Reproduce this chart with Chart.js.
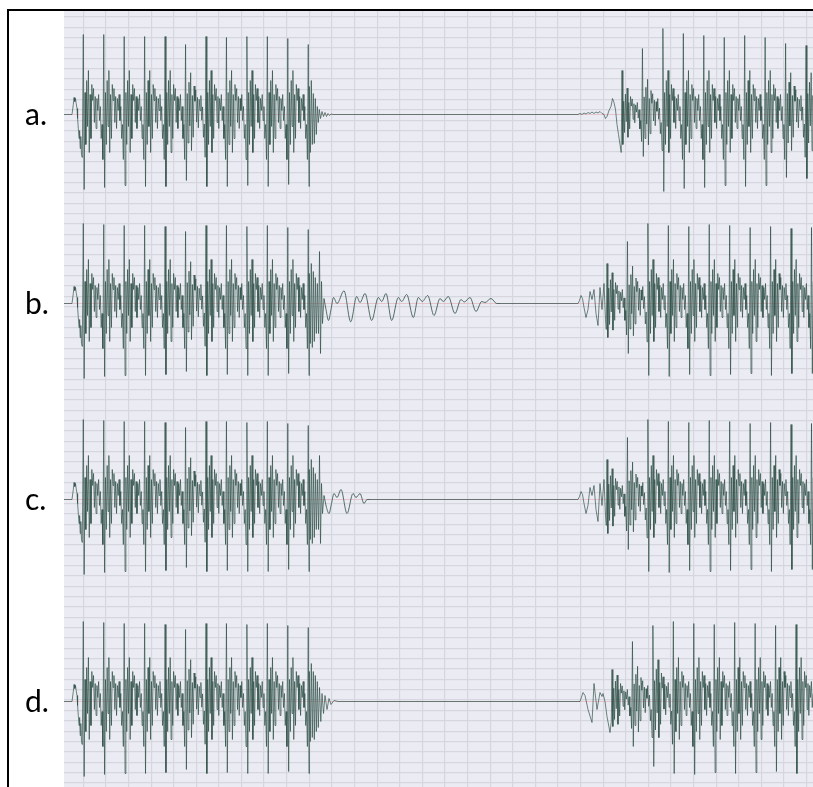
<!DOCTYPE html>
<html>
<head>
<meta charset="utf-8">
<script src="https://cdn.jsdelivr.net/npm/chart.js@4/dist/chart.umd.min.js"></script>
<style>
  html, body { margin: 0; padding: 0; background: #ffffff; }
  #wrap { width: 813px; height: 787px; }
</style>
</head>
<body>
<div id="wrap"><canvas id="trace" width="813" height="787"></canvas></div>
<script>
// ---- recorded traces: time in ms, amplitude in µV ----
const BEAT_MS = 20.45;              // spacing of the large deflections
const SAMPLES_PER_BEAT = 24;
const SAMPLE_MS = BEAT_MS / SAMPLES_PER_BEAT;

// one beat, starting at the large upward deflection
const beatShape = [80, -75, 22, -30, 34, -12, 44, -38, 20, -24, 30, 14, 26, -8, 18, -14,
                   16, 4, 20, -6, 8, -24, -10, -45];

const rowLabels = ['a.', 'b.', 'c.', 'd.'];

// onset shared by every trace before the first burst
const onsetLead = [[0, 0], [8, 0], [9.3, 10], [10, 17], [10.8, 13], [11.5, 16], [12.2, 11], [13, 6],
                   [13.6, -4], [14.3, -14], [15, -24], [15.6, -16], [16.2, -34], [16.8, -22],
                   [17.5, -40], [18.3, -43]];
const burst1Start = 19.3;

// trace a
const aTops1    = [80, 80, 78, 78, 78, 70, 78, 77, 78, 78, 76, 70];
const aBottoms1 = [-75, -73, -71, -72, -72, -66, -72, -72, -71, -72, -70, -72];
const aGains1   = [1, 1, 1, 1, 1, 0.95, 1, 1, 1, 1, 1, 1];
const aTail1 = [[245.3, 28], [246.3, -38], [247.3, 34], [248.3, -30], [249.3, 21], [250.3, -29],
                [251.3, 16], [252.3, -20], [253.3, 8], [254.3, -8], [255.3, 5], [256.5, -4],
                [258, 3], [259.5, -2], [261, 2], [262.5, -2], [264, 1], [265.5, -1], [267, 0.5],
                [269, 0]];
const aRing = [];
const aLead2 = [[514, 0], [516, 1], [518, 0], [520, 1.5], [522, 0.5], [524, 2], [526, 1], [528, 2.5],
                [530, 1], [532, 2.5], [534, 1.5], [536, 3], [538, 1], [540, 0], [541.5, -4],
                [543, -2], [545, 4], [547, 8], [548.5, 16], [550, 12], [551.5, 5], [553, -10],
                [554.5, -20], [556, -30], [557.2, -38]];
const aBurst2Start = 558;
const aTops2    = [44, 66, 86, 81, 79, 77, 79, 77, 71, 69, 75];
const aBottoms2 = [-30, -42, -77, -74, -73, -71, -72, -71, -63, -64, -70];
const aGains2   = [0.6, 0.8, 1, 1, 1, 1, 1, 1, 0.95, 0.95, 1];

// trace b
const bTops1    = [80, 79, 78, 78, 77, 72, 78, 78, 77, 78, 76, 74];
const bBottoms1 = [-75, -73, -72, -72, -71, -68, -72, -71, -72, -72, -70, -72];
const bGains1   = [1, 1, 1, 1, 1, 0.95, 1, 1, 1, 1, 1, 1];
const bTail1 = [[245.3, 30], [246.3, -40], [247.3, 40], [248.3, -44], [249.3, 32], [250.3, -38],
                [251.3, 26], [252.3, -30], [253.3, 20], [254.5, -30], [255.5, 52], [256.5, -50],
                [257.5, 22], [258.5, -20], [260, 5]];
const bRing = [[260, 5], [262, -6], [264.5, -17], [267, -6], [269.5, 6], [273, 0], [280, 12.7],
               [286.7, -18.3], [292.7, 7], [296, 1], [301, 10], [307.7, -17], [314.3, 6],
               [317.7, 2], [322, 10], [327.7, -17], [334.3, 6], [337.7, 2], [342.7, 9],
               [349.3, -14], [354.3, 6], [358.3, 2], [363.7, 8], [370, -12], [376, 5],
               [379.3, 2], [384.3, 7], [391, -10], [397, 4], [400.3, 1.5], [406, 6], [412, -8],
               [417.7, 2], [421, 1], [427, 5], [432.7, 0], [436, 0]];
const bLead2 = [[514, 0], [515.5, 3], [517, 8], [518.5, 5], [520, -4], [522, -14], [524, -6],
                [526, 12], [528, 4], [530, 14], [532, -10], [534, -22], [536, 16], [538, -6],
                [540, 20], [541.5, -16], [542.3, -26]];
const bBurst2Start = 543;
const bTops2    = [40, 62, 80, 78, 77, 79, 78, 76, 77, 75, 76];
const bBottoms2 = [-34, -50, -72, -73, -71, -72, -71, -70, -72, -70, -70];
const bGains2   = [0.7, 0.85, 1, 1, 1, 1, 1, 1, 1, 1, 1];

// trace c
const cTops1    = [80, 79, 78, 78, 77, 72, 78, 78, 77, 78, 76, 74];
const cBottoms1 = [-75, -73, -72, -72, -71, -68, -72, -71, -72, -72, -70, -72];
const cGains1   = [1, 1, 1, 1, 1, 0.95, 1, 1, 1, 1, 1, 1];
const cTail1 = [[245.3, 30], [246.3, -40], [247.3, 40], [248.3, -44], [249.3, 32], [250.3, -38],
                [251.3, 26], [252.3, -30], [253.3, 20], [254.5, -30], [255.5, 44], [256.5, -44],
                [257.5, 16], [258.5, -14], [260, 4]];
const cRing = [[260, 4], [262.5, -8], [265, -14], [267.5, -4], [270, 6], [273, 2], [277, 10],
               [283, -14], [289, 6], [292, 2], [296, 6], [300, -4], [303, 0], [306, 0]];
const cLead2 = bLead2;
const cBurst2Start = 543;
const cTops2    = [40, 62, 80, 78, 77, 79, 78, 76, 77, 75, 76];
const cBottoms2 = [-34, -50, -72, -73, -71, -72, -71, -70, -72, -70, -70];
const cGains2   = [0.7, 0.85, 1, 1, 1, 1, 1, 1, 1, 1, 1];

// trace d
const dTops1    = [80, 79, 78, 78, 77, 72, 78, 78, 77, 78, 76, 74];
const dBottoms1 = [-75, -73, -72, -72, -71, -68, -72, -71, -72, -72, -70, -72];
const dGains1   = [1, 1, 1, 1, 1, 0.95, 1, 1, 1, 1, 1, 1];
const dTail1 = [[245.3, 30], [246.3, -40], [247.3, 38], [248.3, -36], [249.3, 30], [250.3, -38],
                [251.3, 26], [252.3, -30], [253.3, 20], [254.3, -26], [255.5, 14], [256.8, -20],
                [258, 8], [259.5, -12], [261, 6], [263, -8], [265, 3], [267, -3], [270, 1],
                [274, 0]];
const dRing = [];
const dLead2 = [[516, 0], [519, 9], [521, 6], [524, -8], [528, -21], [530, 18], [533, -8],
                [536, 9], [538, 5], [539, 8], [541, 0], [543, -15], [546, -31], [547.3, -20]];
const dBurst2Start = 548;
const dTops2    = [32, 60, 76, 80, 78, 77, 79, 78, 76, 77, 75];
const dBottoms2 = [-25, -45, -65, -72, -73, -71, -72, -71, -70, -72, -70];
const dGains2   = [0.6, 0.8, 0.95, 1, 1, 1, 1, 1, 1, 1, 1];

// ---- assembling the traces ----
const toPoints = pairs => pairs.map(([x, y]) => ({ x, y }));

function beatTrain(start, tops, bottoms, gains, endsWithTail) {
  const pts = [];
  tops.forEach((top, k) => {
    const t0 = start + k * BEAT_MS;
    const last = k === tops.length - 1;
    beatShape.forEach((v, j) => {
      if (last && endsWithTail && j > 1) return;
      const y = j === 0 ? top : j === 1 ? bottoms[k] : v * gains[k];
      pts.push({ x: t0 + j * SAMPLE_MS, y });
    });
  });
  return pts;
}

// each trace: first burst, smooth ring-down, then quiet line and second burst
function traceParts(b1, tail1, ring, lead2, b2) {
  const first = [...toPoints(onsetLead), ...beatTrain(burst1Start, ...b1, true), ...toPoints(tail1)];
  const last = first[first.length - 1];
  const middle = ring.length ? toPoints(ring) : [];
  const from = middle.length ? middle[middle.length - 1] : last;
  const second = [from, ...toPoints(lead2), ...beatTrain(...b2, false)];
  return { first, middle, second };
}

const traces = [
  traceParts([aTops1, aBottoms1, aGains1], aTail1, aRing, aLead2, [aBurst2Start, aTops2, aBottoms2, aGains2]),
  traceParts([bTops1, bBottoms1, bGains1], bTail1, bRing, bLead2, [bBurst2Start, bTops2, bBottoms2, bGains2]),
  traceParts([cTops1, cBottoms1, cGains1], cTail1, cRing, cLead2, [cBurst2Start, cTops2, cBottoms2, cGains2]),
  traceParts([dTops1, dBottoms1, dGains1], dTail1, dRing, dLead2, [dBurst2Start, dTops2, dBottoms2, dGains2])
];

// ---- layout of the recording strip ----
const AREA = { left: 64, top: 11, right: 813, bottom: 787 };
const ROW_ZERO = [114.5, 303.5, 499.5, 701.5];  // pixel row of each trace's zero level
const COL_STEP = 22.6, COL_FIRST = 19.3;        // vertical rulings
const ROW_STEP = 10.35, ROW_ANCHOR = 565.5;     // horizontal rulings
const SPAN_X = AREA.right - AREA.left;
const SPAN_Y = AREA.bottom - AREA.top;
const TRACE_COLOR = 'rgba(40, 74, 64, 0.78)';

const rowAxisIds = ['ya', 'yb', 'yc', 'yd'];
const scales = {
  x: {
    type: 'linear', min: 0, max: SPAN_X,
    afterBuildTicks: s => {
      const t = [];
      for (let v = COL_FIRST; v <= SPAN_X; v += COL_STEP) t.push({ value: v });
      s.ticks = t;
    },
    ticks: { display: false },
    grid: { color: '#d5d6de', lineWidth: 1.2, drawTicks: false },
    border: { display: false }
  },
  yGrid: {
    type: 'linear', position: 'left', min: 0, max: SPAN_Y,
    afterBuildTicks: s => {
      const t = [];
      const first = (AREA.bottom - ROW_ANCHOR) % ROW_STEP;
      for (let v = first; v <= SPAN_Y; v += ROW_STEP) t.push({ value: v });
      s.ticks = t;
    },
    ticks: { display: false },
    grid: { color: '#d5d6de', lineWidth: 1.2, drawTicks: false },
    border: { display: false }
  }
};
rowAxisIds.forEach((id, i) => {
  scales[id] = {
    type: 'linear', display: false,
    min: ROW_ZERO[i] - AREA.bottom, max: ROW_ZERO[i] - AREA.top
  };
});

const datasets = [];
traces.forEach((tr, i) => {
  const common = { yAxisID: rowAxisIds[i], xAxisID: 'x', borderColor: TRACE_COLOR,
                   borderWidth: 0.85, pointRadius: 0, fill: false };
  datasets.push({ ...common, data: tr.first, tension: 0 });
  if (tr.middle.length) datasets.push({ ...common, data: tr.middle, borderWidth: 1, cubicInterpolationMode: 'monotone' });
  datasets.push({ ...common, data: tr.second, tension: 0 });
});

const stripPlugin = {
  id: 'strip',
  beforeDraw(chart) {
    const { ctx, chartArea: a } = chart;
    ctx.save();
    ctx.fillStyle = '#ebebf3';
    ctx.fillRect(a.left, a.top, a.right - a.left, a.bottom - a.top);
    ctx.restore();
  },
  beforeDatasetsDraw(chart) {
    const { ctx, chartArea: a } = chart;
    ctx.save();
    ctx.strokeStyle = 'rgba(226, 170, 180, 0.6)';
    ctx.lineWidth = 1;
    rowAxisIds.forEach(id => {
      const y = chart.scales[id].getPixelForValue(0);
      ctx.beginPath(); ctx.moveTo(a.left, y); ctx.lineTo(a.right, y); ctx.stroke();
    });
    ctx.restore();
  },
  afterDraw(chart) {
    const { ctx } = chart;
    ctx.save();
    ctx.fillStyle = '#000';
    ctx.fillRect(7, 9, 2, 787 - 9);
    ctx.fillRect(7, 9, 813 - 7, 2);
    ctx.font = '30px Lato, "Liberation Sans", sans-serif';
    ctx.textBaseline = 'alphabetic';
    ctx.textAlign = 'left';
    rowAxisIds.forEach((id, i) => {
      const y = chart.scales[id].getPixelForValue(0);
      ctx.fillText(rowLabels[i], 25, y + 10);
    });
    ctx.restore();
  }
};

new Chart(document.getElementById('trace'), {
  type: 'line',
  data: { datasets },
  options: {
    responsive: false, animation: false, events: [],
    parsing: false, normalized: true,
    layout: { padding: { left: AREA.left, top: AREA.top, right: 0, bottom: 0 } },
    plugins: { legend: { display: false }, tooltip: { enabled: false } },
    scales
  },
  plugins: [stripPlugin]
});
</script>
</body>
</html>
